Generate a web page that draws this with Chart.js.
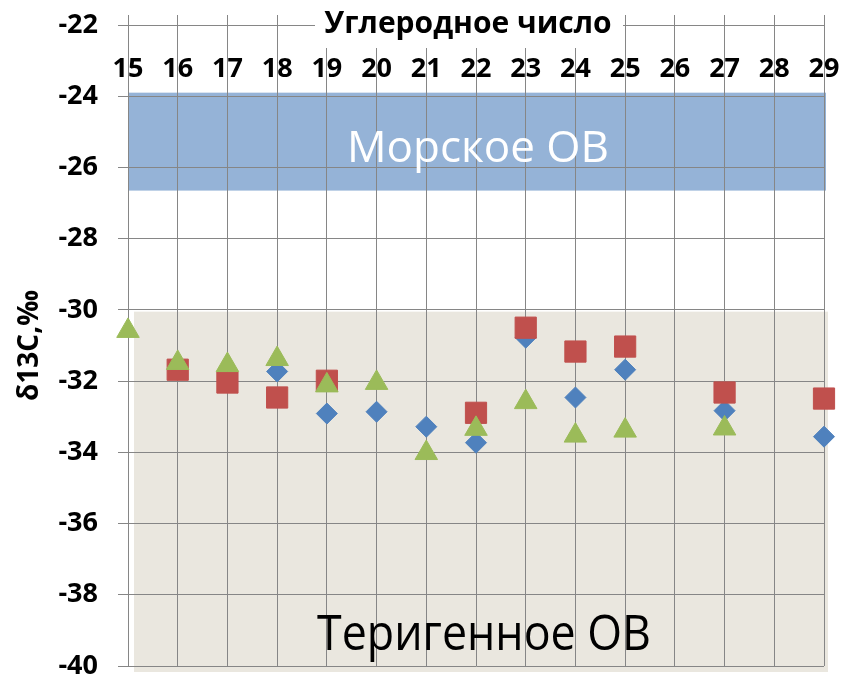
<!DOCTYPE html>
<html>
<head>
<meta charset="utf-8">
<script src="https://cdn.jsdelivr.net/npm/chart.js@4.4.1/dist/chart.umd.min.js"></script>
<style>
  html, body { margin: 0; padding: 0; background: #fff; }
  #wrap { width: 841px; height: 677px; }
</style>
</head>
<body>
<div id="wrap"><canvas id="isoChart" width="841" height="677"></canvas></div>
<script>
// carbon numbers along the top axis
const carbonNumbers = ['15', '16', '17', '18', '19', '20', '21', '22', '23', '24', '25', '26', '27', '28', '29'];

// δ13C values, ‰ (null = no point)
const seriesBlue  = [null, null, null, -31.73, -32.91, -32.86, -33.28, -33.73, -30.78, -32.46, -31.68, null, -32.83, null, -33.56];
const seriesRed   = [null, -31.68, -32.04, -32.46, -31.99, null, null, -32.89, -30.50, -31.17, -31.03, null, -32.32, null, -32.49];
const seriesGreen = [-30.59, -31.49, -31.55, -31.38, -32.12, -32.05, -34.02, -33.34, -32.59, -33.53, -33.39, null, -33.33, null, null];

const yTicks = [-40, -38, -36, -34, -32, -30, -28, -26, -24, -22];

const FONT = '"Open Sans", "DejaVu Sans", sans-serif';

// background zones and their captions
const zonesPlugin = {
    id: 'zones',
    beforeDraw(chart) {
        const { ctx, scales: { x, y } } = chart;
        ctx.save();
        // marine zone
        ctx.fillStyle = '#95B3D7';
        const x0 = x.getPixelForValue(0);
        const x1 = x.getPixelForValue(14) + 2;
        const mTop = y.getPixelForValue(-23.9);
        const mBot = y.getPixelForValue(-26.65);
        ctx.fillRect(x0, mTop, x1 - x0, mBot - mTop);
        // terrigenous zone (slightly shifted box)
        ctx.fillStyle = '#EAE7DF';
        const tTop = y.getPixelForValue(-30.05);
        const tBot = y.getPixelForValue(-40) + 6;
        ctx.fillRect(x0 + 6, tTop, x1 + 2 - (x0 + 6), tBot - tTop);
        ctx.restore();
    },
    afterDraw(chart) {
        const { ctx, scales: { x, y } } = chart;
        ctx.save();
        // axis title sitting on the top axis line
        ctx.fillStyle = '#fff';
        ctx.fillRect(315, 0, 308, 48);
        ctx.fillStyle = '#000';
        ctx.font = 'bold 30px ' + FONT;
        ctx.textAlign = 'center';
        ctx.textBaseline = 'middle';
        ctx.fillText('Углеродное число', 468, 24, 290);

        const cx = (x.left + x.right) / 2;
        ctx.fillStyle = '#fff';
        ctx.font = '44px ' + FONT;
        ctx.fillText('Морское ОВ', cx + 2, y.getPixelForValue(-25.5), 278);

        ctx.fillStyle = '#000';
        ctx.font = '50px ' + FONT;
        ctx.fillText('Теригенное ОВ', cx + 8, y.getPixelForValue(-39.15), 334);
        ctx.restore();
    }
};

const ctx = document.getElementById('isoChart').getContext('2d');
const isoChart = new Chart(ctx, {
    type: 'line',
    data: {
        labels: carbonNumbers,
        datasets: [
            {
                label: 'Серия 1',
                data: seriesBlue,
                showLine: false,
                pointStyle: 'rectRot',
                pointRadius: 10.5,
                pointHoverRadius: 10.5,
                backgroundColor: '#4F81BD',
                borderColor: '#4F81BD',
                borderWidth: 1,
                order: 3
            },
            {
                label: 'Серия 2',
                data: seriesRed,
                showLine: false,
                pointStyle: 'rect',
                pointRadius: 15,
                pointHoverRadius: 15,
                backgroundColor: '#C0504D',
                borderColor: '#C0504D',
                borderWidth: 1,
                order: 2
            },
            {
                label: 'Серия 3',
                data: seriesGreen,
                showLine: false,
                pointStyle: 'triangle',
                pointRadius: 13,
                pointHoverRadius: 13,
                backgroundColor: '#9BBB59',
                borderColor: '#9BBB59',
                borderWidth: 1,
                order: 1
            }
        ]
    },
    options: {
        responsive: false,
        animation: false,
        layout: {
            autoPadding: false,
            padding: { left: 0, top: 0, right: 17, bottom: 11 }
        },
        plugins: {
            legend: { display: false },
            tooltip: { enabled: false }
        },
        scales: {
            x: {
                position: 'top',
                offset: false,
                afterFit(scale) {
                    scale.height = 25;
                    scale.paddingLeft = 0;
                    scale.paddingRight = 0;
                },
                grid: {
                    color: '#868686',
                    lineWidth: 1,
                    tickLength: 10
                },
                border: { color: '#868686' },
                ticks: {
                    mirror: true,
                    padding: 28,
                    color: '#000',
                    maxRotation: 0,
                    autoSkip: false,
                    font: { family: FONT, size: 27, weight: 'bold' }
                }
            },
            y: {
                min: -40,
                max: -22,
                afterFit(scale) {
                    scale.width = 128;
                    scale.paddingTop = 0;
                    scale.paddingBottom = 0;
                },
                afterBuildTicks(scale) {
                    scale.ticks = yTicks.map(v => ({ value: v }));
                },
                grid: {
                    color: '#868686',
                    lineWidth: 1,
                    tickLength: 10
                },
                border: { color: '#868686' },
                ticks: {
                    padding: 20,
                    color: '#000',
                    font: { family: FONT, size: 27, weight: 'bold' }
                },
                title: {
                    display: true,
                    text: 'δ13C,‰',
                    color: '#000',
                    padding: { top: 13, bottom: 0 },
                    font: { family: FONT, size: 28, weight: 'bold' }
                }
            }
        }
    },
    plugins: [zonesPlugin]
});
</script>
</body>
</html>
